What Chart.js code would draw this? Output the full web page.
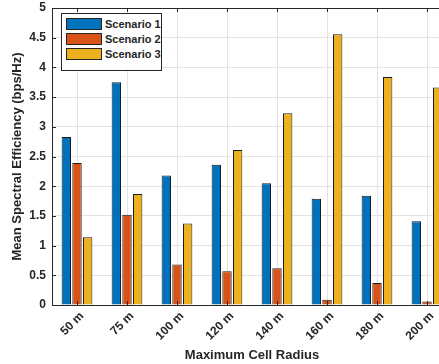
<!DOCTYPE html>
<html>
<head>
<meta charset="utf-8">
<script src="https://cdn.jsdelivr.net/npm/chart.js@4/dist/chart.umd.min.js"></script>
<style>
  body { margin: 0; overflow: hidden; background: #fff; width: 439px; height: 364px; }
  #wrap { position: relative; width: 470px; height: 364px; }
  #legend {
    position: absolute; left: 61px; top: 13px; width: 101px; height: 58px;
    border: 1px solid #262626; background: #fff; box-sizing: border-box;
    font: bold 11px "Liberation Sans", Arial, sans-serif; color: #262626;
  }
  #legend .row { position: absolute; left: 4px; height: 12px; display: flex; align-items: center; white-space: nowrap; }
  #legend .sw { width: 36px; height: 12px; border: 1px solid #262626; box-sizing: border-box; margin-right: 3px; }
</style>
</head>
<body>
<div id="wrap">
  <canvas id="chart" width="470" height="364"></canvas>
  <div id="legend"></div>
</div>
<script>
// categories and values
const radii = ["50 m", "75 m", "100 m", "120 m", "140 m", "160 m", "180 m", "200 m"];
const scenario1 = [2.83, 3.75, 2.18, 2.36, 2.05, 1.79, 1.84, 1.41];
const scenario2 = [2.39, 1.52, 0.68, 0.57, 0.62, 0.09, 0.37, 0.06];
const scenario3 = [1.14, 1.87, 1.37, 2.61, 3.23, 4.56, 3.84, 3.66];
const seriesNames = ["Scenario 1", "Scenario 2", "Scenario 3"];
const seriesColors = ["#0072BD", "#D95319", "#EDB120"];

const axisColor = "#262626";
const font = "'Liberation Sans', Arial, sans-serif";

// frame: top border + inward tick marks like MATLAB's box on
const framePlugin = {
  id: "frame",
  afterDraw(chart) {
    const ctx = chart.ctx;
    const a = chart.chartArea;
    const xs = chart.scales.x;
    const ys = chart.scales.y;
    ctx.save();
    ctx.strokeStyle = axisColor;
    ctx.lineWidth = 1;
    ctx.beginPath();
    ctx.moveTo(a.left, a.top + 0.5);
    ctx.lineTo(a.right, a.top + 0.5);
    ctx.stroke();
    ctx.beginPath();
    xs.ticks.forEach((t, i) => {
      const x = Math.round(xs.getPixelForTick(i)) + 0.5;
      ctx.moveTo(x, a.bottom);
      ctx.lineTo(x, a.bottom - 4);
      ctx.moveTo(x, a.top);
      ctx.lineTo(x, a.top + 4);
    });
    ys.ticks.forEach((t, i) => {
      const y = Math.round(ys.getPixelForTick(i)) + 0.5;
      ctx.moveTo(a.left, y);
      ctx.lineTo(a.left + 4, y);
    });
    ctx.stroke();
    ctx.restore();
  }
};

const datasets = [scenario1, scenario2, scenario3].map((vals, i) => ({
  label: seriesNames[i],
  data: vals,
  backgroundColor: seriesColors[i],
  borderColor: "#1a1a1a",
  borderWidth: 1,
  borderSkipped: "bottom",
  barPercentage: 0.88,
  categoryPercentage: 0.64
}));

new Chart(document.getElementById("chart"), {
  type: "bar",
  data: { labels: radii, datasets: datasets },
  options: {
    responsive: false,
    animation: false,
    layout: { padding: { top: 8, right: 18, left: 0, bottom: 0 } },
    plugins: { legend: { display: false }, tooltip: { enabled: false } },
    scales: {
      x: {
        afterFit: (s) => { s.height = 59; },
        grid: { offset: false, color: "#e3e3e3", drawTicks: false },
        border: { color: axisColor, width: 1 },
        ticks: {
          minRotation: 45, maxRotation: 45, padding: 4, labelOffset: 5,
          color: axisColor, font: { family: font, size: 12, weight: "bold" }
        },
        title: {
          display: true, text: "Maximum Cell Radius", color: axisColor,
          font: { family: font, size: 13, weight: "bold" }, padding: { top: 0, bottom: 1 }
        }
      },
      y: {
        min: 0, max: 5,
        afterFit: (s) => { s.width = 52; s.paddingTop = 0; s.paddingBottom = 0; },
        grid: { color: "#e3e3e3", drawTicks: false },
        border: { color: axisColor, width: 1 },
        ticks: {
          stepSize: 0.5, padding: 6, color: axisColor,
          font: { family: font, size: 12, weight: "bold" },
          callback: (v) => String(v)
        },
        title: {
          display: true, text: "Mean Spectral Efficiency (bps/Hz)", color: axisColor,
          font: { family: font, size: 13, weight: "bold" }, padding: { top: 10, bottom: 0 }
        }
      }
    }
  },
  plugins: [framePlugin]
});

// legend box inside the plot, top-left
const legend = document.getElementById("legend");
seriesNames.forEach((name, i) => {
  const row = document.createElement("div");
  row.className = "row";
  row.style.top = (4 + i * 15) + "px";
  row.innerHTML = '<span class="sw" style="background:' + seriesColors[i] + '"></span><span>' + name + "</span>";
  legend.appendChild(row);
});
</script>
</body>
</html>
